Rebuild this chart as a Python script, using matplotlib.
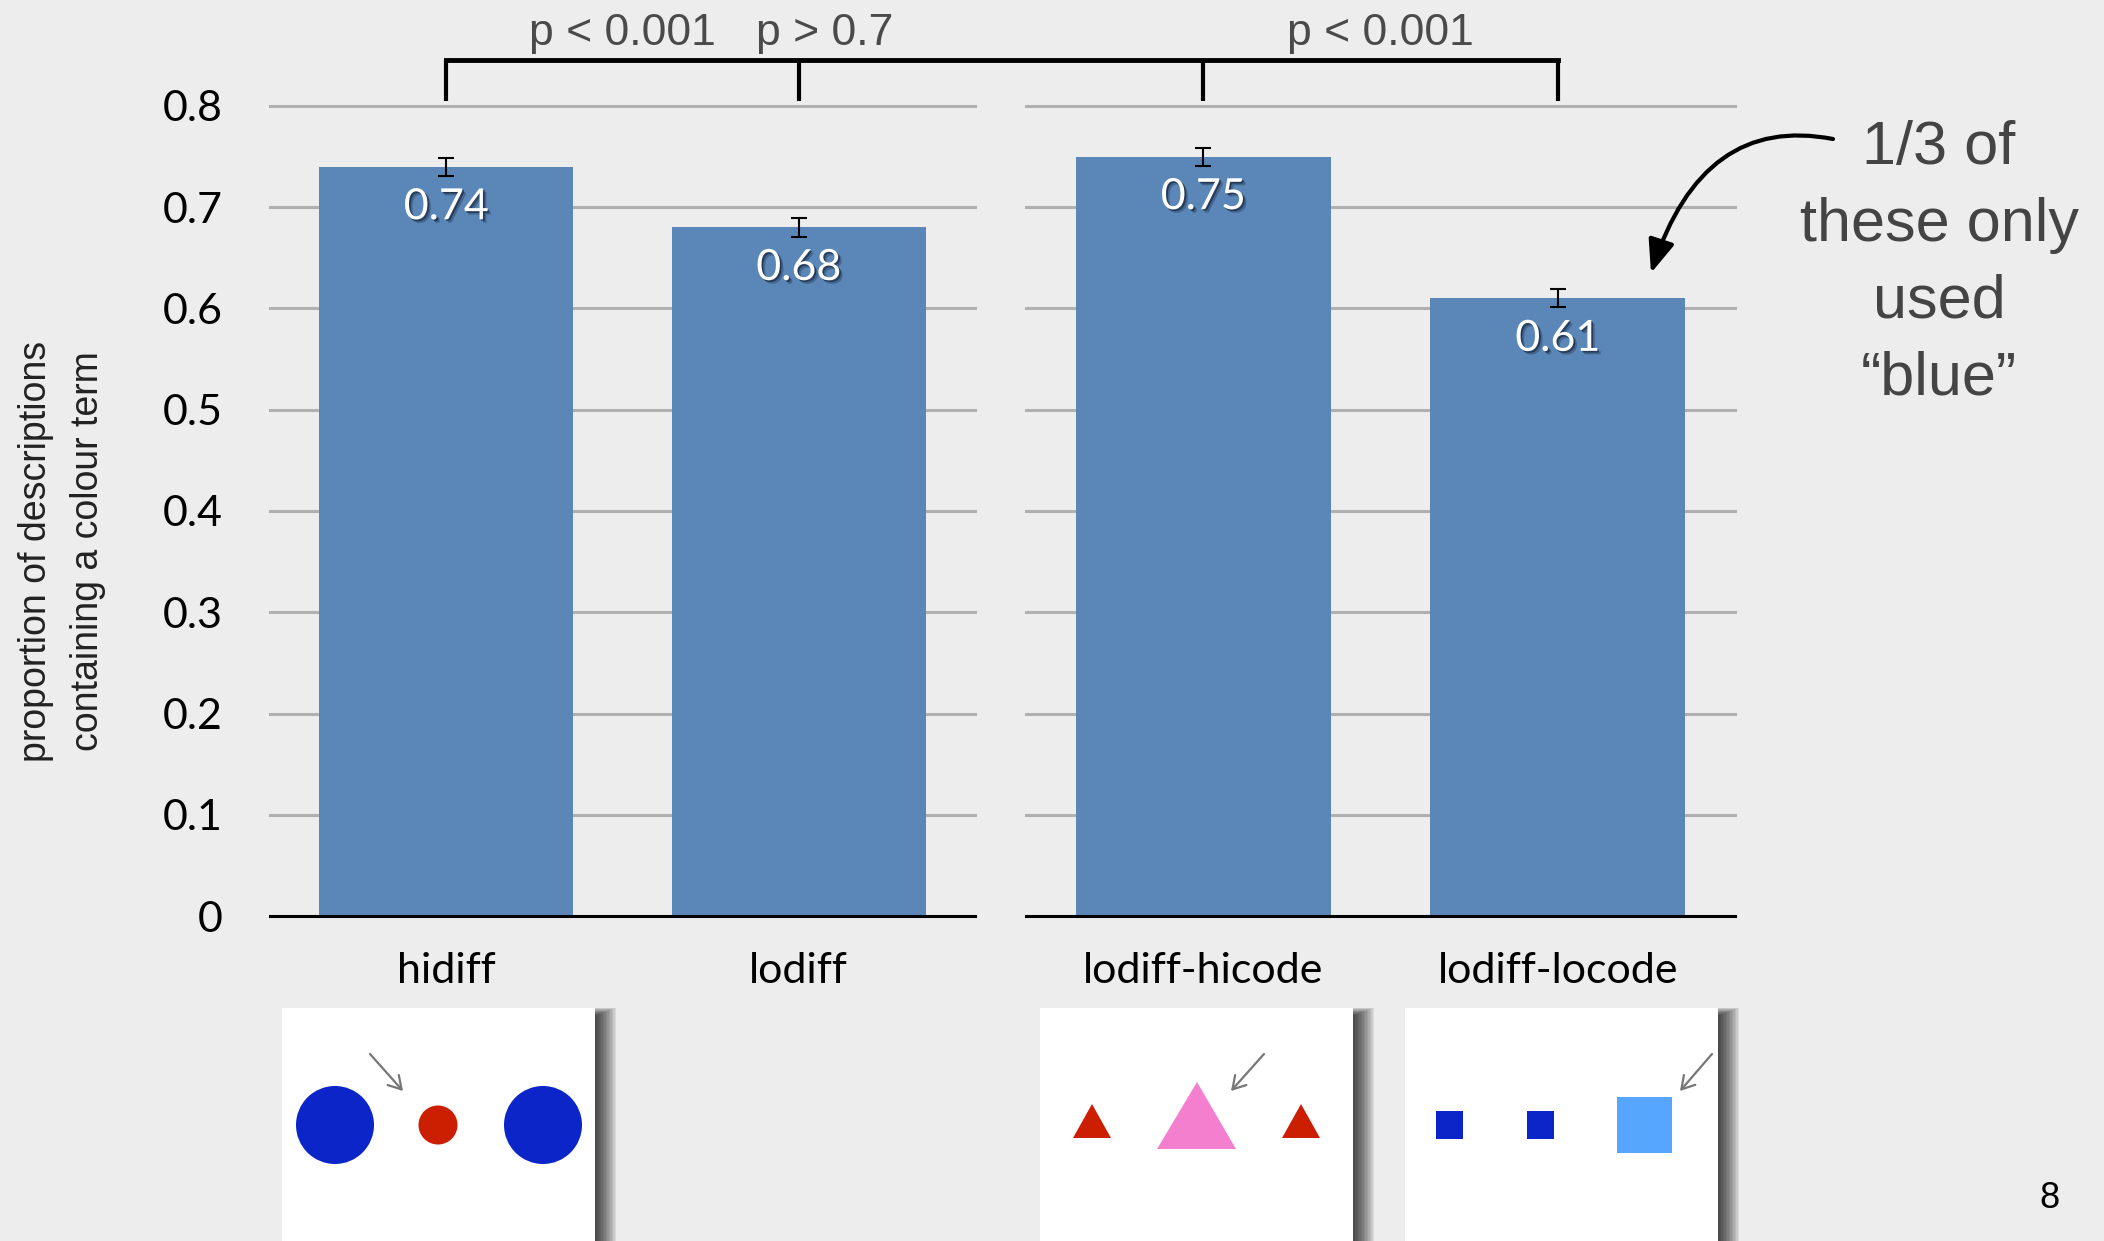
import matplotlib
matplotlib.use("Agg")
import matplotlib.pyplot as plt
import matplotlib.patheffects as pe
from matplotlib.patches import Rectangle, Circle, Polygon

# values
left_cats = ["hidiff", "lodiff"]
left_vals = [0.74, 0.68]
left_errs = [0.009, 0.009]
right_cats = ["lodiff-hicode", "lodiff-locode"]
right_vals = [0.75, 0.61]
right_errs = [0.009, 0.009]
y_ticks = [0, 0.1, 0.2, 0.3, 0.4, 0.5, 0.6, 0.7, 0.8]
y_tick_labels = ["0", "0.1", "0.2", "0.3", "0.4", "0.5", "0.6", "0.7", "0.8"]
p_labels = ["p < 0.001", "p > 0.7", "p < 0.001"]
y_label = "proportion of descriptions\ncontaining a colour term"
note = "1/3 of\nthese only\nused\n\u201cblue\u201d"

W, H = 2104, 1241
bg = "#ededed"
bar_color = "#5b87b8"
num_font = "Lato"
txt_font = "Liberation Sans"

fig = plt.figure(figsize=(W / 100, H / 100), dpi=100)
fig.set_facecolor(bg)

# pixel overlay for brackets, note and the stimulus pictures
over = fig.add_axes([0, 0, 1, 1], zorder=5)
over.set_xlim(0, W)
over.set_ylim(H, 0)
over.set_axis_off()

ax1 = fig.add_axes([270 / W, 1 - 916 / H, 705 / W, 810 / H])
ax2 = fig.add_axes([1026 / W, 1 - 916 / H, 709 / W, 810 / H])

shadow = [
    pe.SimplePatchShadow(offset=(1.2, -1.2), shadow_rgbFace="#0d1a30", alpha=0.6),
    pe.SimplePatchShadow(offset=(2.5, -2.5), shadow_rgbFace="#0d1a30", alpha=0.3),
    pe.Normal(),
]


def panel(ax, cats, vals, errs):
    x = list(range(len(cats)))
    ax.set_facecolor("none")
    ax.bar(x, vals, width=0.72, color=bar_color, zorder=2)
    ax.errorbar(x, vals, yerr=errs, fmt="none", ecolor="black",
                elinewidth=1.5, capsize=6, capthick=1.5, zorder=3)
    for xi, v in zip(x, vals):
        ax.text(xi, v - 0.04, f"{v:.2f}", ha="center", va="center", color="white",
                fontsize=31, family=num_font, zorder=4, path_effects=shadow)
    ax.set_xlim(-0.5, 1.5)
    ax.set_ylim(0, 0.8)
    ax.set_yticks(y_ticks)
    ax.set_xticks(x, cats, fontsize=31, family=num_font)
    ax.grid(axis="y", color="#b0b0b0", lw=2.2)
    ax.set_axisbelow(True)
    for gl in ax.get_ygridlines():
        gl.set_clip_on(False)
    ax.spines[["top", "right", "left"]].set_visible(False)
    ax.spines["bottom"].set_linewidth(2.2)
    ax.tick_params(length=0)
    ax.tick_params(axis="x", pad=26)


panel(ax1, left_cats, left_vals, left_errs)
panel(ax2, right_cats, right_vals, right_errs)
ax1.set_yticklabels(y_tick_labels, fontsize=31, family=num_font)
ax1.tick_params(axis="y", pad=34)
ax2.tick_params(labelleft=False)
ax1.set_ylabel(y_label, fontsize=27, family=txt_font, color="#222222",
               linespacing=1.55, va="center")
ax1.yaxis.set_label_coords(-0.295, 0.45)


def px(ax, x, y):
    return over.transData.inverted().transform(ax.transData.transform((x, y)))


# significance bracket
brack_lo, brack_hi, p_base = 0.805, 0.845, 0.86
positions = [(ax1, 0), (ax1, 1), (ax2, 0), (ax2, 1)]
for ax, xi in positions:
    a = px(ax, xi, brack_lo)
    b = px(ax, xi, brack_hi)
    over.plot([a[0], b[0]], [a[1], b[1]], color="black", lw=3, solid_capstyle="butt")
l_end = px(ax1, 0, brack_hi)
r_end = px(ax2, 1, brack_hi)
over.plot([l_end[0], r_end[0]], [l_end[1], r_end[1]], color="black", lw=3.5,
          solid_capstyle="projecting")

pairs = [(0, 1), (0, 2), (2, 3)]
for (i, j), lab in zip(pairs, p_labels):
    a = px(*positions[i], p_base)
    b = px(*positions[j], p_base)
    over.text((a[0] + b[0]) / 2, a[1], lab, ha="center", va="baseline",
              fontsize=32, family=txt_font, color="#4a4a4a")

# side note with curved arrow
over.text(1939, 264, note, ha="center", va="center", multialignment="center",
          fontsize=44, linespacing=1.45, family=txt_font, color="#444444")
over.annotate("", xy=(1651, 273), xytext=(1833, 139),
              arrowprops=dict(arrowstyle="-|>,head_length=1.0,head_width=0.4",
                              connectionstyle="angle3,angleA=169,angleB=72",
                              color="black", lw=3, mutation_scale=20,
                              shrinkA=0, shrinkB=0))


# stimulus pictures under the bars, soft shadow falling to the right
def stim_box(x0, w=313, y0=1008):
    h = H - y0 + 30
    for s in range(14, 0, -1):
        top = y0 + 8 - 0.6 * s
        over.add_patch(Rectangle((x0 + 2, top), w - 2 + 1.5 * s, H + 30 - top,
                                 color="black", alpha=0.075, lw=0))
    over.add_patch(Rectangle((x0, y0), w, h, color="white", lw=0))


def small_arrow(x0, y0, x1, y1):
    over.annotate("", xy=(x1, y1), xytext=(x0, y0),
                  arrowprops=dict(arrowstyle="->,head_length=0.5,head_width=0.3",
                                  color="#777777", lw=1.6, mutation_scale=18,
                                  shrinkA=0, shrinkB=0))


blue = "#0c25c9"
red = "#cc1e00"

stim_box(282)
over.add_patch(Circle((335, 1125), 39, color=blue, lw=0))
over.add_patch(Circle((438, 1125), 19.5, color=red, lw=0))
over.add_patch(Circle((543, 1125), 39, color=blue, lw=0))
small_arrow(370, 1054, 403, 1091)

stim_box(1040)
over.add_patch(Polygon([(1073, 1138), (1111, 1138), (1092, 1104)], color=red, lw=0))
over.add_patch(Polygon([(1157, 1149), (1236, 1149), (1197, 1082)], color="#f47fcf", lw=0))
over.add_patch(Polygon([(1282, 1138), (1320, 1138), (1301, 1104)], color=red, lw=0))
small_arrow(1264, 1054, 1231, 1091)

stim_box(1405)
over.add_patch(Rectangle((1436, 1111), 27, 28, color=blue, lw=0))
over.add_patch(Rectangle((1527, 1111), 27, 28, color=blue, lw=0))
over.add_patch(Rectangle((1617, 1097), 55, 56, color="#56a6ff", lw=0))
small_arrow(1712, 1054, 1680, 1091)

over.text(2049, 1198, "8", ha="center", va="center", fontsize=26, family=txt_font)

fig.savefig("out.png", dpi=100, facecolor=bg)
